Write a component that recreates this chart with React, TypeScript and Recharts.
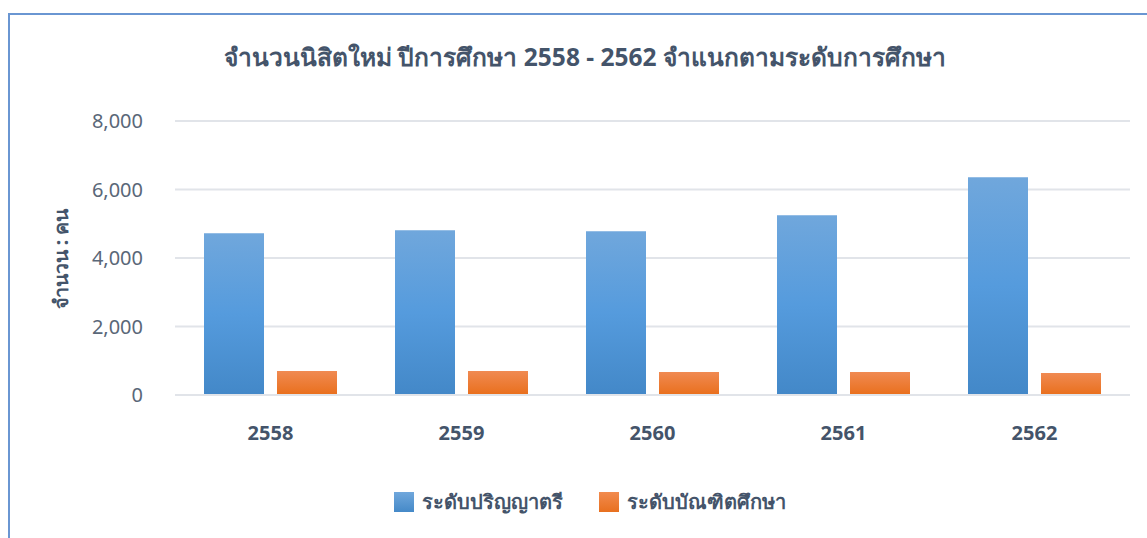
import { BarChart, Bar, XAxis, YAxis, CartesianGrid, Legend } from 'recharts'

const years = ['2558', '2559', '2560', '2561', '2562']
const bachelor = [4720, 4810, 4780, 5250, 6360]
const graduate = [700, 700, 670, 670, 640]
const yTicks = [0, 2000, 4000, 6000, 8000]

const data = years.map((year, i) => ({ year, bachelor: bachelor[i], graduate: graduate[i] }))

const FONT = '"Noto Sans", Tahoma, sans-serif'
const TEXT = '#44546a'

const legendItems = [
  { name: 'ระดับปริญญาตรี', bg: 'linear-gradient(#70a7dc, #4589c8)' },
  { name: 'ระดับบัณฑิตศึกษา', bg: 'linear-gradient(#f28b4f, #e8701f)' },
]

function renderLegend() {
  return (
    <div style={{ display: 'flex', justifyContent: 'center', gap: 36, fontFamily: FONT }}>
      {legendItems.map((it) => (
        <div key={it.name} style={{ display: 'flex', alignItems: 'center' }}>
          <span style={{ width: 20, height: 20, background: it.bg, display: 'inline-block', marginRight: 8 }} />
          <span style={{ fontSize: 20, fontWeight: 700, color: TEXT }}>{it.name}</span>
        </div>
      ))}
    </div>
  )
}

export default function App() {
  return (
    <div style={{ position: 'absolute', left: 0, top: 0, width: 1147, height: 538, overflow: 'hidden', background: '#fff' }}>
      <div
        style={{
          position: 'absolute',
          left: 8,
          top: 13,
          width: 1200,
          height: 600,
          border: '2px solid #6a96d2',
        }}
      />
      <div
        style={{
          position: 'absolute',
          left: 0,
          width: 1170,
          top: 38,
          textAlign: 'center',
          fontFamily: FONT,
          fontSize: 24.5,
          fontWeight: 700,
          color: TEXT,
        }}
      >
        จำนวนนิสิตใหม่ ปีการศึกษา 2558 - 2562 จำแนกตามระดับการศึกษา
      </div>
      <div style={{ position: 'absolute', left: 0, top: 0 }}>
        <BarChart
          width={1147}
          height={538}
          data={data}
          margin={{ top: 121, right: 17, bottom: 81, left: 115 }}
          barGap={13}
          barSize={60}
        >
          <defs>
            <linearGradient id="blueGrad" x1="0" y1="0" x2="0" y2="1">
              <stop offset="0%" stopColor="#70a7dc" />
              <stop offset="50%" stopColor="#559bdd" />
              <stop offset="100%" stopColor="#4388c8" />
            </linearGradient>
            <linearGradient id="orangeGrad" x1="0" y1="0" x2="0" y2="1">
              <stop offset="0%" stopColor="#f08a52" />
              <stop offset="100%" stopColor="#e96f1c" />
            </linearGradient>
          </defs>
          <CartesianGrid vertical={false} stroke="#e1e4e9" strokeWidth={2} />
          <XAxis
            dataKey="year"
            axisLine={{ stroke: '#e1e4e9', strokeWidth: 2 }}
            tickLine={false}
            tickSize={0}
            tickMargin={31}
            height={30}
            tick={{ fill: TEXT, fontSize: 20, fontWeight: 700, fontFamily: FONT }}
          />
          <YAxis
            width={60}
            domain={[0, 8000]}
            ticks={yTicks}
            axisLine={false}
            tickLine={false}
            tickSize={0}
            tickMargin={32}
            tickFormatter={(v: number) => v.toLocaleString('en-US')}
            tick={{ fill: '#5a6778', fontSize: 20, fontFamily: FONT }}
            label={{
              content: () => (
                <text
                  x={60}
                  y={259}
                  transform="rotate(-90 60 259)"
                  textAnchor="middle"
                  dominantBaseline="central"
                  fill={TEXT}
                  fontSize={19.5}
                  fontWeight={700}
                  fontFamily={FONT}
                >
                  จำนวน : คน
                </text>
              ),
            }}
          />
          <Legend
            content={renderLegend}
            wrapperStyle={{ top: 486, left: 0, width: 1180 }}
          />
          <Bar dataKey="bachelor" name="ระดับปริญญาตรี" fill="url(#blueGrad)" isAnimationActive={false} />
          <Bar dataKey="graduate" name="ระดับบัณฑิตศึกษา" fill="url(#orangeGrad)" isAnimationActive={false} />
        </BarChart>
      </div>
    </div>
  )
}
